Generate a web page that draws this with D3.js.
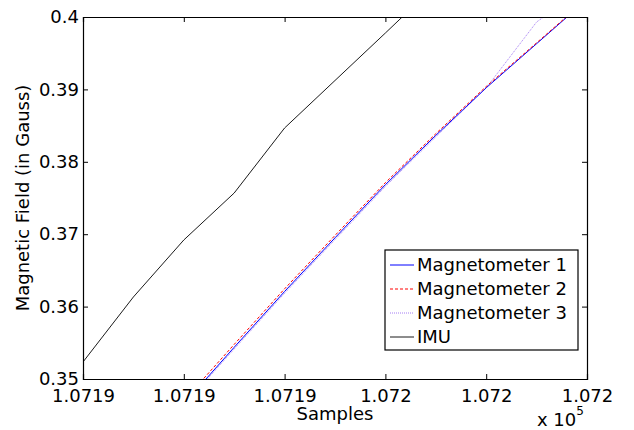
<!DOCTYPE html>
<html>
<head>
<meta charset="utf-8">
<script src="https://cdn.jsdelivr.net/npm/d3@7"></script>
<style>
  body { margin: 0; background: #fff; }
  svg { display: block; font-family: "DejaVu Sans", Verdana, sans-serif; }
  .axis text { font-size: 18px; fill: #000; font-family: "DejaVu Sans", Verdana, sans-serif; }
  .axis path, .axis line { stroke: #000; }
</style>
</head>
<body>
<svg width="634" height="430"></svg>
<script>
var samples = [107190, 107191, 107192, 107193, 107194, 107195, 107196, 107197, 107198, 107199, 107200];
var imu  = [0.35235, 0.36133, 0.36920, 0.37569, 0.38467, 0.39123, 0.39779, 0.40442, null, null, null];
var mag1 = [null, null, 0.34655, 0.35438, 0.36209, 0.36950, 0.37684, 0.38365, 0.39022, 0.39631, 0.40242];
var mag2 = [null, null, 0.34700, 0.35478, 0.36246, 0.36983, 0.37712, 0.38388, 0.39040, 0.39643, 0.40250];
var mag3 = [null, null, 0.34635, 0.35415, 0.36185, 0.36925, 0.37660, 0.38345, 0.39020, 0.39931, 0.40430];
var seriesNames = ["Magnetometer 1", "Magnetometer 2", "Magnetometer 3", "IMU"];
var xTicks = [107190, 107192, 107194, 107196, 107198, 107200];
var xTickLabels = ["1.0719", "1.0719", "1.0719", "1.072", "1.072", "1.072"];
var yTicks = [0.35, 0.36, 0.37, 0.38, 0.39, 0.4];
var yTickLabels = ["0.35", "0.36", "0.37", "0.38", "0.39", "0.4"];

var plotLeft = 83, plotRight = 587, plotTop = 17, plotBottom = 379;

var svg = d3.select("svg");

var xScale = d3.scaleLinear().domain([107190, 107200]).range([plotLeft, plotRight]);
var yScale = d3.scaleLinear().domain([0.35, 0.4]).range([plotBottom, plotTop]);

var styles = [
  { color: "#0000ff", dash: null, width: 1 },
  { color: "#ff0000", dash: "3,2", width: 1 },
  { color: "#a47cf4", dash: "1,1", width: 1 },
  { color: "#000000", dash: null, width: 0.9 }
];
var values = [mag1, mag2, mag3, imu];

svg.append("clipPath").attr("id", "plotClip")
  .append("rect")
  .attr("x", plotLeft).attr("y", plotTop)
  .attr("width", plotRight - plotLeft).attr("height", plotBottom - plotTop);

var line = d3.line()
  .defined(function (d) { return d != null; })
  .x(function (d, i) { return xScale(samples[i]); })
  .y(function (d) { return yScale(d); });

// draw imu first so magnetometers stay on top like the original
var order = [3, 2, 0, 1];
var plot = svg.append("g").attr("clip-path", "url(#plotClip)");
order.forEach(function (k) {
  plot.append("path")
    .attr("d", line(values[k]))
    .attr("fill", "none")
    .attr("stroke", styles[k].color)
    .attr("stroke-width", styles[k].width)
    .attr("stroke-dasharray", styles[k].dash);
});

// axes, ticks pointing inward on all four sides
var xAxis = d3.axisBottom(xScale).tickValues(xTicks)
  .tickFormat(function (d, i) { return xTickLabels[i]; })
  .tickSize(-5).tickPadding(10);
svg.append("g").attr("class", "axis")
  .attr("transform", "translate(0," + plotBottom + ")")
  .call(xAxis);

svg.append("g").attr("class", "axis")
  .attr("transform", "translate(0," + plotTop + ")")
  .call(d3.axisTop(xScale).tickValues(xTicks).tickFormat("").tickSize(-5));

var yAxis = d3.axisLeft(yScale).tickValues(yTicks)
  .tickFormat(function (d, i) { return yTickLabels[i]; })
  .tickSize(-5).tickPadding(4);
svg.append("g").attr("class", "axis")
  .attr("transform", "translate(" + plotLeft + ",0)")
  .call(yAxis);

svg.append("g").attr("class", "axis")
  .attr("transform", "translate(" + plotRight + ",0)")
  .call(d3.axisRight(yScale).tickValues(yTicks).tickFormat("").tickSize(-5));

svg.selectAll(".axis path.domain").attr("stroke-width", 1.2);

// axis titles
svg.append("text")
  .attr("x", (plotLeft + plotRight) / 2).attr("y", 420)
  .attr("text-anchor", "middle")
  .style("font-size", "18px")
  .text("Samples");

svg.append("text")
  .attr("transform", "translate(29," + ((plotTop + plotBottom) / 2) + ") rotate(-90)")
  .attr("text-anchor", "middle")
  .style("font-size", "18px")
  .text("Magnetic Field (in Gauss)");

var expo = svg.append("text")
  .attr("x", 537).attr("y", 426)
  .style("font-size", "18px");
expo.append("tspan").text("x 10");
expo.append("tspan").attr("dy", -11).style("font-size", "12px").text("5");

// legend
var legend = svg.append("g").attr("transform", "translate(385,250)");
legend.append("rect")
  .attr("width", 193).attr("height", 100)
  .attr("fill", "#fff").attr("stroke", "#000").attr("stroke-width", 1.2);

seriesNames.forEach(function (name, i) {
  var y = 15 + i * 24;
  legend.append("line")
    .attr("x1", 5).attr("x2", 29).attr("y1", y).attr("y2", y)
    .attr("stroke", styles[i].color)
    .attr("stroke-width", styles[i].width)
    .attr("stroke-dasharray", styles[i].dash);
  legend.append("text")
    .attr("x", 32).attr("y", y)
    .attr("dy", "0.36em")
    .style("font-size", "18px")
    .text(name);
});
</script>
</body>
</html>
